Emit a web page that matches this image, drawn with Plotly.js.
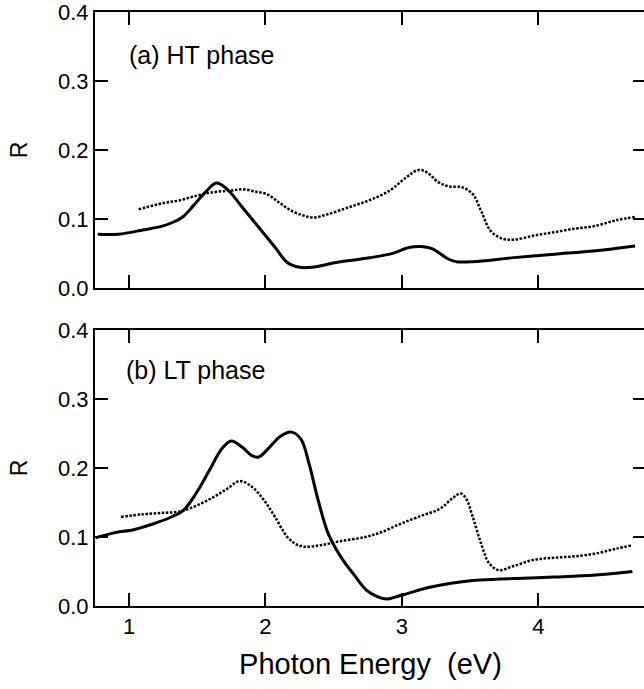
<!DOCTYPE html>
<html>
<head>
<meta charset="utf-8">
<script src="https://cdn.plot.ly/plotly-3.0.1.min.js"></script>
<style>
html,body{margin:0;padding:0;overflow:hidden;background:#fff;}
#chart{width:650px;height:689px;}
</style>
</head>
<body>
<div id="chart"></div>
<script>
// (a) HT phase
var htSolidX = [0.77,0.92,1.10,1.25,1.33,1.40,1.47,1.56,1.64,1.72,1.83,1.95,2.07,2.16,2.25,2.34,2.52,2.70,2.91,3.06,3.14,3.22,3.34,3.40,3.52,3.82,4.12,4.42,4.71];
var htSolidY = [0.078,0.078,0.084,0.090,0.096,0.104,0.119,0.139,0.152,0.143,0.117,0.088,0.059,0.037,0.030,0.030,0.037,0.042,0.049,0.059,0.060,0.057,0.042,0.038,0.038,0.044,0.049,0.054,0.061];
var htDotX = [1.07,1.25,1.37,1.50,1.62,1.74,1.83,1.92,2.01,2.10,2.19,2.28,2.35,2.46,2.61,2.76,2.91,3.03,3.12,3.18,3.27,3.35,3.44,3.52,3.58,3.65,3.73,3.82,3.97,4.12,4.27,4.42,4.57,4.71];
var htDotY = [0.114,0.123,0.127,0.134,0.139,0.141,0.143,0.140,0.136,0.124,0.112,0.105,0.102,0.107,0.117,0.127,0.141,0.160,0.171,0.168,0.153,0.147,0.146,0.136,0.112,0.083,0.072,0.070,0.076,0.081,0.086,0.090,0.098,0.103];
// (b) LT phase
var ltSolidX = [0.755,0.89,1.04,1.19,1.31,1.40,1.49,1.59,1.68,1.75,1.83,1.90,1.95,2.02,2.11,2.19,2.26,2.32,2.38,2.46,2.55,2.65,2.74,2.82,2.89,2.96,3.04,3.18,3.36,3.52,3.72,4.12,4.42,4.69];
var ltSolidY = [0.099,0.106,0.111,0.120,0.129,0.139,0.163,0.197,0.228,0.239,0.230,0.218,0.216,0.228,0.246,0.252,0.242,0.206,0.158,0.105,0.072,0.045,0.023,0.0135,0.010,0.0135,0.018,0.026,0.033,0.037,0.039,0.042,0.045,0.050];
var ltDotX = [0.94,1.10,1.25,1.37,1.50,1.62,1.72,1.81,1.90,1.99,2.07,2.16,2.22,2.28,2.40,2.55,2.73,2.85,3.00,3.16,3.28,3.37,3.43,3.47,3.52,3.58,3.64,3.71,3.82,3.97,4.12,4.27,4.42,4.57,4.69];
var ltDotY = [0.129,0.133,0.135,0.137,0.146,0.158,0.170,0.181,0.173,0.153,0.129,0.100,0.090,0.086,0.088,0.094,0.100,0.107,0.120,0.132,0.141,0.156,0.163,0.156,0.129,0.091,0.062,0.052,0.058,0.067,0.070,0.072,0.076,0.083,0.088];

var yTicks = [0.0,0.1,0.2,0.3,0.4];
var xTicks = [1,2,3,4];
var panelLabels = ["(a) HT phase","(b) LT phase"];

var F = '"Liberation Sans", Arial, Helvetica, sans-serif';
var solid = {color:'#000', width:3, shape:'spline', smoothing:1};
var dotted = {color:'#000', width:2.5, dash:'2.5px,1.6px', shape:'spline', smoothing:1};

var traces = [
  {x:htSolidX, y:htSolidY, xaxis:'x2', yaxis:'y2', mode:'lines', line:solid},
  {x:htDotX, y:htDotY, xaxis:'x2', yaxis:'y2', mode:'lines', line:dotted},
  {x:ltSolidX, y:ltSolidY, xaxis:'x', yaxis:'y', mode:'lines', line:solid},
  {x:ltDotX, y:ltDotY, xaxis:'x', yaxis:'y', mode:'lines', line:dotted}
];

function xax(extra){
  var a = {range:[0.75,4.79], tickvals:xTicks, ticks:'inside', ticklen:13, tickwidth:2, tickcolor:'#000',
    showline:true, linewidth:2, linecolor:'#000', mirror:'ticks', showgrid:false, zeroline:false,
    ticklabeloverflow:'allow',
    tickfont:{family:F, size:22, color:'#000'}};
  for (var k in extra) a[k]=extra[k];
  return a;
}
function yax(extra){
  var a = {range:[0,0.4], tickvals:yTicks, tickformat:'.1f', ticks:'inside', ticklen:13, tickwidth:2, tickcolor:'#000',
    showline:true, linewidth:2, linecolor:'#000', mirror:'ticks', showgrid:false, zeroline:false,
    ticklabeloverflow:'allow',
    tickfont:{family:F, size:22, color:'#000'},
    title:{text:'R', font:{family:F, size:23, color:'#000'}, standoff:24}};
  for (var k in extra) a[k]=extra[k];
  return a;
}

var layout = {
  width:650, height:689,
  margin:{l:95, r:4, t:12, b:83},
  paper_bgcolor:'#fff', plot_bgcolor:'#fff',
  showlegend:false,
  xaxis: xax({anchor:'y', title:{text:'Photon Energy\u00a0\u00a0(eV)', font:{family:F, size:29, color:'#000'}, standoff:15}}),
  yaxis: yax({domain:[0,0.4646], anchor:'x'}),
  xaxis2: xax({anchor:'y2', showticklabels:false}),
  yaxis2: yax({domain:[0.5354,1], anchor:'x2'}),
  annotations:[
    {text:panelLabels[0], xref:'x2', yref:'y2', x:0.985, y:0.338, xanchor:'left', yanchor:'middle', showarrow:false, font:{family:F, size:25, color:'#000'}},
    {text:panelLabels[1], xref:'x', yref:'y', x:0.965, y:0.342, xanchor:'left', yanchor:'middle', showarrow:false, font:{family:F, size:25, color:'#000'}}
  ]
};

Plotly.newPlot('chart', traces, layout, {displayModeBar:false, staticPlot:true});
</script>
</body>
</html>
